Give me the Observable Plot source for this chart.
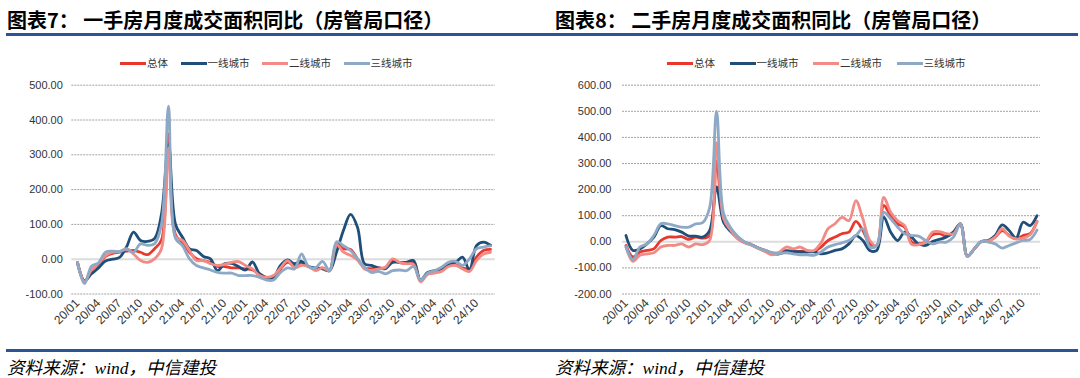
<!DOCTYPE html>
<html><head><meta charset="utf-8">
<script src="https://cdn.jsdelivr.net/npm/d3@7"></script>
<script src="https://cdn.jsdelivr.net/npm/@observablehq/plot@0.6"></script>
<style>
body{margin:0;background:#fff;}
#root{position:relative;width:1080px;height:378px;overflow:hidden;background:#fff;font-family:"Noto Sans CJK SC",sans-serif;}
.title{position:absolute;top:8px;font-size:20px;font-weight:700;line-height:24px;color:#000;white-space:nowrap;}
.rule{position:absolute;left:6px;width:1072px;height:3px;background:#2E5395;}
.legend{position:absolute;top:56px;display:flex;align-items:center;font-size:10.5px;color:#333;line-height:14px;white-space:nowrap;}
.item{display:flex;align-items:center;}
.sw{width:26px;height:3px;margin-right:1px;}
.source{position:absolute;top:356px;font-size:17.5px;font-style:italic;font-family:"Liberation Serif","Noto Sans CJK SC",serif;color:#000;line-height:24px;white-space:nowrap;}
</style></head><body><div id="root"></div>
<script>
// ---- data ----
const months = [];
for (let y = 20; y <= 24; y++) for (let m = 1; m <= 12; m++) months.push(`${y}/${String(m).padStart(2,"0")}`);
const seriesNames = ["总体", "一线城市", "二线城市", "三线城市"];
const seriesColors = ["#E8382E", "#1F4E79", "#F28B85", "#8EA9C5"];

// 图表7 一手房
const newTotal = [-10,-65,-30,-15,8,17,20,23,25,20,13,30,55,360,70,49,20,1,-4,-9,-21,-21,-25,-25,-28,-31,-42,-52,-52,-28,-9,-18,-10,-21,-28,-25,-33,42,30,28,1,-25,-27,-25,-25,-2,-10,-12,-10,-62,-42,-38,-33,-18,-16,-25,-28,6,25,28];
const newTier1 = [-10,-62,-42,-25,-5,0,5,35,78,54,51,59,130,330,100,63,30,25,8,1,-33,-13,-12,-21,-31,-8,-42,-54,-52,-18,-2,-13,-6,-21,-25,-28,-33,20,83,129,92,-13,-18,-25,-27,-9,-9,-9,-4,-60,-38,-33,-28,-13,-9,6,-31,39,49,40];
const newTier2 = [-10,-65,-30,-12,10,20,22,30,15,-4,-9,1,30,320,65,54,25,-4,-4,-13,-18,-15,-9,-7,-18,-28,-47,-52,-47,-25,-4,-25,-18,-21,-33,-25,-33,42,20,11,-2,-28,-32,-28,-23,1,-9,-13,-15,-65,-44,-40,-35,-21,-18,-28,-35,-4,15,20];
const newTier3 = [-10,-70,-20,-10,20,23,22,28,20,44,40,44,100,440,60,39,1,-18,-25,-31,-38,-40,-40,-47,-47,-47,-52,-60,-60,-38,-25,-28,15,-21,-25,-6,-33,50,39,25,1,-23,-38,-35,-42,-33,-31,-33,-21,-60,-40,-33,-23,-9,-6,-18,1,30,35,38];

// 图表8 二手房
const oldTotal = [-14,-58,-39,-33,-27,5,18,18,20,9,18,14,24,310,85,45,15,-2,-11,-24,-33,-42,-42,-33,-37,-37,-37,-37,-20,5,18,31,37,78,43,-8,-14,139,100,69,56,-1,-8,-1,27,31,22,37,69,-55,-27,1,3,18,43,24,11,24,31,78];
const oldTier1 = [24,-33,-27,-8,18,62,50,47,37,22,22,18,43,210,75,40,15,-2,-11,-24,-35,-45,-46,-37,-37,-39,-39,-39,-46,-42,-33,-27,-8,24,5,-33,-33,94,37,5,37,18,-8,-14,1,9,18,37,69,-55,-27,1,5,24,65,43,14,75,62,100];
const oldTier2 = [-20,-75,-52,-46,-42,-20,-14,-14,-8,-20,-8,-11,5,380,90,45,12,-4,-13,-26,-38,-50,-40,-20,-27,-20,-33,-33,-4,50,69,94,81,158,88,5,-14,170,113,81,62,-10,-11,-1,37,39,31,31,69,-57,-27,1,3,18,50,22,11,14,27,78];
const oldTier3 = [-20,-68,-20,-8,24,69,69,62,56,56,69,73,130,500,110,55,22,0,-11,-24,-33,-42,-45,-42,-46,-50,-50,-52,-39,-20,-11,-4,5,24,50,-20,-14,113,88,56,31,24,22,5,-8,-1,-1,18,69,-55,-27,1,-1,-8,-24,-14,-4,5,9,45];

const newTicks = [-100,0,100,200,300,400,500];
const oldTicks = [-200,-100,0,100,200,300,400,500,600];
const xTickLabels = months.filter((d,i)=>i%3===0);

// ---- build ----
const root = document.getElementById("root");
function el(tag, cls, style, text){const e=document.createElement(tag); if(cls) e.className=cls; if(style) Object.assign(e.style, style); if(text!=null) e.textContent=text; return e;}

function chart(series, yTicks, mLeft, mRight, padL) {
  const rows = [];
  seriesNames.forEach((name, k) => series[k].forEach((v, i) => rows.push({m: months[i], v, s: name})));
  return Plot.plot({
    width: 540, height: 275,
    marginTop: 14.7, marginBottom: 51.5, marginLeft: mLeft, marginRight: mRight,
    style: {fontFamily: '"Liberation Sans", Arial, sans-serif', fontSize: "11px", color: "#333", background: "transparent", overflow: "visible"},
    x: {type: "point", domain: months, padding: 0.5},
    y: {domain: [yTicks[0], yTicks[yTicks.length-1]]},
    color: {domain: seriesNames, range: seriesColors},
    marks: [
      Plot.ruleY(yTicks.filter(d => d !== 0), {stroke: "#a3a3a3", strokeWidth: 1, strokeDasharray: "2,1"}),
      Plot.ruleY([0], {stroke: "#dcdcdc", strokeWidth: 2}),
      Plot.axisY({ticks: yTicks, tickSize: 0, tickPadding: padL, tickFormat: d => d.toFixed(2), label: null, fontSize: 11}),
      Plot.axisX({ticks: xTickLabels, tickSize: 0, tickRotate: -45, tickPadding: 7, label: null, fontSize: 12}),
      Plot.line(rows, {x: "m", y: "v", z: "s", stroke: "s", strokeWidth: 2.8, curve: "catmull-rom"})
    ]
  });
}

function legend(left, gap) {
  const lg = el("div", "legend", {left: left + "px"});
  seriesNames.forEach((n, k) => {
    const it = el("div", "item", {marginRight: k < 3 ? gap + "px" : "0"});
    it.appendChild(el("div", "sw", {background: seriesColors[k]}));
    it.appendChild(el("span", null, null, n));
    lg.appendChild(it);
  });
  return lg;
}

root.appendChild(el("div", "title", {left: "7px"}, "图表7： 一手房月度成交面积同比（房管局口径）"));
root.appendChild(el("div", "title", {left: "555px"}, "图表8： 二手房月度成交面积同比（房管局口径）"));
root.appendChild(el("div", "rule", {top: "33px"}));
root.appendChild(el("div", "rule", {top: "349px"}));
root.appendChild(legend(120, 12.5));
root.appendChild(legend(667, 14.5));

const c1 = chart([newTotal, newTier1, newTier2, newTier3], newTicks, 71.3, 45.2, 9);
c1.style.position = "absolute"; c1.style.left = "0px"; c1.style.top = "70px";
root.appendChild(c1);
const c2 = chart([oldTotal, oldTier1, oldTier2, oldTier3], oldTicks, 82, 40, 11);
c2.style.position = "absolute"; c2.style.left = "540px"; c2.style.top = "70px";
root.appendChild(c2);

root.appendChild(el("div", "source", {left: "7px"}, "资料来源：wind，中信建投"));
root.appendChild(el("div", "source", {left: "555px"}, "资料来源：wind，中信建投"));
</script></body></html>
